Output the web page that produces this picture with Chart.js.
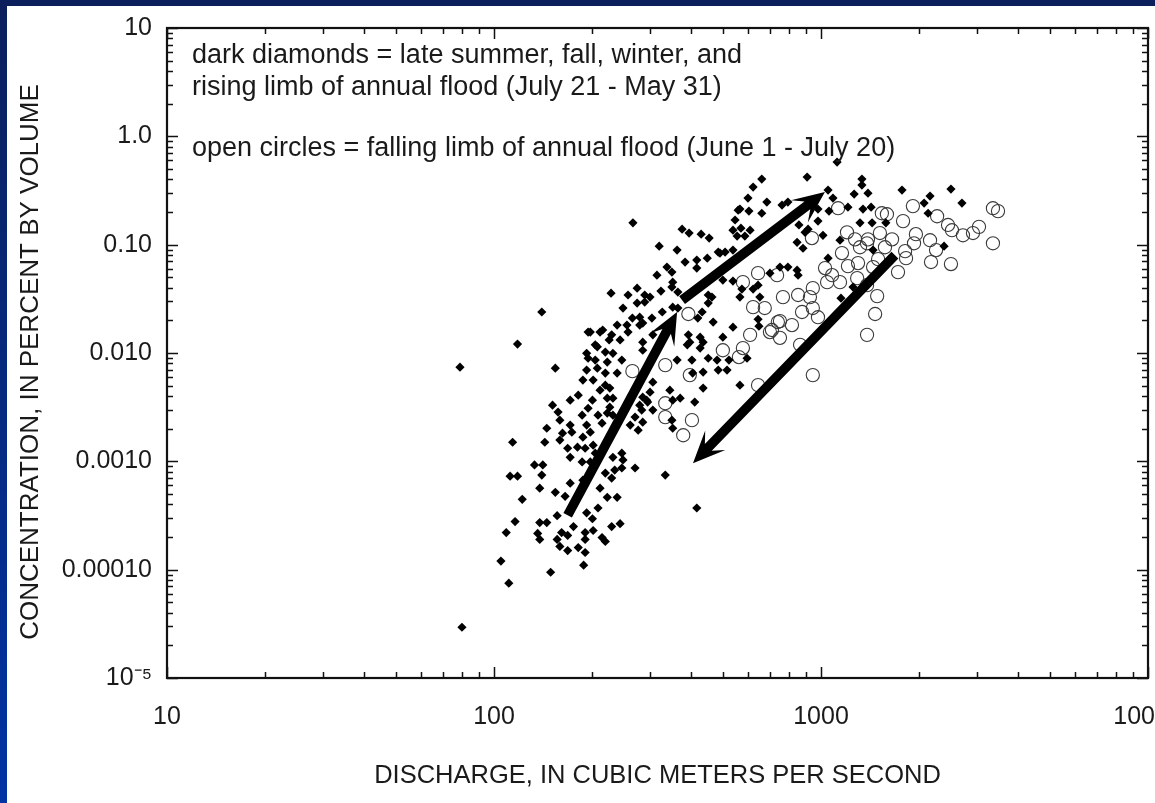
<!DOCTYPE html>
<html>
<head>
<meta charset="utf-8">
<script src="https://cdn.jsdelivr.net/npm/chart.js@4.4.0/dist/chart.umd.min.js"></script>
<style>
  html, body { margin: 0; padding: 0; width: 1155px; height: 803px; overflow: hidden; background: #fff; }
  #topbar { position: absolute; left: 0; top: 0; width: 1155px; height: 6px; background: #0b1f5c; }
  #leftbar { position: absolute; left: 0; top: 0; width: 7px; height: 803px; background: linear-gradient(#0b1f5c, #0034a3); }
  #chart { position: absolute; left: 0; top: 0; }
</style>
</head>
<body>
<div id="topbar"></div>
<div id="leftbar"></div>
<canvas id="chart" width="1155" height="803"></canvas>
<script>
// dark diamonds: discharge (m3/s) and concentration (% by volume)
const diamondQ = [
  266, 320, 376, 395, 430, 455, 363, 315, 338, 352, 384, 417, 417, 449, 491, 538, 546, 538, 558, 350,
  485, 509, 501, 257, 274, 289, 300, 324, 350, 365, 452, 464, 1120, 907, 659, 620, 598, 683, 565, 602,
  659, 760, 792, 569, 607, 585, 1334, 1334, 1392, 1263, 1051, 1088, 979, 1058, 1209, 1344, 1423, 1769, 2067, 2155,
  2497, 2698, 2126, 856, 913, 979, 1014, 845, 881, 1316, 1433, 1579, 1143, 1443, 2379, 1051, 749, 792, 845, 851,
  698, 538, 642, 620, 650, 573, 565, 894, 1253, 1151, 140, 118, 78.7, 154, 228, 194, 248, 274, 352, 327,
  304, 279, 265, 255, 279, 238, 215, 229, 243, 257, 285, 306, 207, 219, 192, 204, 231, 222, 246, 192,
  207, 219, 187, 201, 211, 226, 231, 171, 151, 181, 200, 345, 306, 300, 352, 390, 427, 393, 436, 468,
  501, 538, 363, 403, 405, 436, 485, 516, 481, 433, 411, 642, 646, 452, 436, 565, 594, 452, 420, 427,
  397, 523, 334, 350, 352, 283, 285, 306, 293, 371, 285, 285, 114, 145, 143, 133, 141, 140, 112, 118,
  157, 159, 171, 162, 173, 194, 186, 192, 197, 187, 159, 168, 180, 190, 201, 204, 186, 197, 171, 208,
  214, 222, 226, 222, 219, 204, 194, 238, 225, 211, 197, 285, 279, 295, 270, 276, 261, 231, 246, 248,
  231, 234, 246, 270, 219, 122, 138, 154, 171, 165, 187, 211, 229, 222, 238, 208, 192, 200, 156, 116,
  109, 138, 145, 136, 138, 161, 168, 156, 159, 168, 181, 190, 190, 201, 190, 214, 219, 229, 243, 105,
  111, 149, 188, 175, 417, 79.8, 554, 289, 365
];
const diamondC = [
  0.159, 0.0968, 0.139, 0.128, 0.125, 0.115, 0.0891, 0.0523, 0.0621, 0.0451, 0.0691, 0.0721, 0.0608, 0.0751, 0.0836, 0.0891, 0.169, 0.136, 0.208, 0.0558,
  0.0854, 0.0854, 0.0471, 0.0343, 0.0397, 0.0343, 0.0328, 0.0373, 0.0406, 0.0365, 0.0343, 0.0328, 0.579, 0.421, 0.403, 0.340, 0.269, 0.247, 0.213, 0.204,
  0.195, 0.232, 0.247, 0.142, 0.136, 0.120, 0.403, 0.355, 0.299, 0.293, 0.319, 0.269, 0.213, 0.204, 0.222, 0.213, 0.222, 0.319, 0.242, 0.281,
  0.326, 0.242, 0.195, 0.152, 0.139, 0.165, 0.122, 0.105, 0.0927, 0.159, 0.159, 0.159, 0.110, 0.0891, 0.0968, 0.0751, 0.0621, 0.0621, 0.0582, 0.0523,
  0.0546, 0.0461, 0.0423, 0.0389, 0.0328, 0.0389, 0.0328, 0.130, 0.0406, 0.0321, 0.0239, 0.0121, 0.0074, 0.00725, 0.0357, 0.0156, 0.0260, 0.0289, 0.0265, 0.0239,
  0.0210, 0.0214, 0.0210, 0.0181, 0.0181, 0.0181, 0.0163, 0.0147, 0.0132, 0.0156, 0.0126, 0.0147, 0.0114, 0.0102, 0.00994, 0.0086, 0.00994, 0.00824, 0.0086, 0.00695,
  0.00725, 0.00652, 0.00562, 0.00562, 0.00454, 0.00474, 0.00383, 0.00367, 0.00330, 0.00408, 0.00367, 0.00454, 0.00538, 0.00435, 0.00367, 0.0119, 0.0111, 0.0147, 0.0126, 0.0193,
  0.0140, 0.0173, 0.0086, 0.0086, 0.00652, 0.00474, 0.00695, 0.00695, 0.0086, 0.0239, 0.00352, 0.0205, 0.0177, 0.00894, 0.00666, 0.00505, 0.00894, 0.0289, 0.0210, 0.0140,
  0.0126, 0.0086, 0.000746, 0.00240, 0.00202, 0.00297, 0.00230, 0.00297, 0.00367, 0.00383, 0.0106, 0.0189, 0.00150, 0.00202, 0.00150, 0.000926, 0.000926, 0.000746, 0.000730, 0.000730,
  0.00285, 0.00240, 0.00216, 0.00182, 0.00186, 0.00309, 0.00267, 0.00216, 0.00186, 0.00167, 0.00157, 0.00132, 0.00135, 0.00132, 0.00141, 0.00119, 0.000987, 0.000987, 0.00109, 0.00267,
  0.00225, 0.00383, 0.00316, 0.00279, 0.00505, 0.0119, 0.00894, 0.00652, 0.0132, 0.0156, 0.0156, 0.00391, 0.00330, 0.00352, 0.00256, 0.00194, 0.00216, 0.00267, 0.00119, 0.00103,
  0.00109, 0.00083, 0.000868, 0.000868, 0.000779, 0.000446, 0.000565, 0.000517, 0.000628, 0.000475, 0.00067, 0.000565, 0.000700, 0.000465, 0.000465, 0.000371, 0.000335, 0.000295, 0.000315, 0.000278,
  0.000220, 0.000272, 0.000272, 0.000216, 0.00019, 0.00022, 0.000207, 0.00019, 0.000164, 0.00015, 0.000160, 0.000144, 0.00022, 0.00023, 0.00019, 0.000198, 0.000182, 0.000250, 0.000266, 0.00012,
  0.000075, 0.0000947, 0.000110, 0.000250, 0.000371, 0.0000294, 0.120, 0.0295, 0.0260
];

// open circles: discharge and concentration
const circleQ = [
  1128, 1535, 1591, 1910, 2265, 1782, 2446, 2515, 2717, 2916, 3042, 3356, 3478, 3356, 2155, 2248, 2170, 2497, 1951, 1925,
  1808, 1820, 1720, 1649, 1569, 1495, 1443, 1392, 1514, 1271, 1201, 1316, 1383, 1159, 1209, 1298, 1029, 1081, 1143, 1290,
  1383, 1485, 1464, 1383, 938, 944, 642, 734, 577, 620, 673, 765, 851, 944, 925, 875, 944, 979, 738, 815,
  698, 749, 607, 501, 577, 561, 863, 642, 1044, 393, 334, 397, 265, 334, 334, 403, 379, 708, 749
];
const circleC = [
  0.217, 0.195, 0.191, 0.227, 0.183, 0.165, 0.152, 0.136, 0.122, 0.128, 0.146, 0.217, 0.204, 0.103, 0.110, 0.0891, 0.0691, 0.0662, 0.125, 0.103,
  0.0872, 0.0751, 0.0558, 0.112, 0.0947, 0.0735, 0.0621, 0.112, 0.128, 0.112, 0.130, 0.0947, 0.103, 0.0836, 0.0634, 0.0676, 0.0608, 0.0523, 0.0451, 0.0491,
  0.0423, 0.0335, 0.0229, 0.0147, 0.115, 0.00625, 0.0546, 0.0523, 0.0451, 0.0265, 0.0260, 0.0328, 0.0343, 0.0397, 0.0328, 0.0239, 0.0260, 0.0214, 0.0193, 0.0181,
  0.0156, 0.0138, 0.0147, 0.0106, 0.0111, 0.00917, 0.0119, 0.00505, 0.0451, 0.0229, 0.00773, 0.00625, 0.00680, 0.00344, 0.00256, 0.00240, 0.00174, 0.0163, 0.0197
];

// trend arrows (tail -> head)
const arrowFromQ = [168, 376, 1683];
const arrowFromC = [0.000318, 0.0308, 0.0802];
const arrowToQ = [363, 1028, 406];
const arrowToC = [0.0239, 0.306, 0.00096];

// axes
const xTickValues = [10, 100, 1000, 10000];
const xTickLabels = ['10', '100', '1000', '10000'];
const yTickValues = [0.00001, 0.0001, 0.001, 0.01, 0.1, 1, 10];
const yTickLabels = ['10\u207B\u2075', '0.00010', '0.0010', '0.010', '0.10', '1.0', '10'];
const minorSteps = [2, 3, 4, 5, 6, 7, 8, 9];

const xTitle = 'DISCHARGE, IN CUBIC METERS PER SECOND';
const yTitle = 'CONCENTRATION, IN PERCENT BY VOLUME';
const noteLines = [
  'dark diamonds = late summer, fall, winter, and',
  'rising limb of annual flood (July 21 - May 31)',
  'open circles = falling limb of annual flood (June 1 - July 20)'
];

const textColor = '#1a1a1a';
const fontFamily = '"Liberation Sans", Arial, Helvetica, sans-serif';

function toPoints(qs, cs) {
  return qs.map((q, i) => ({ x: q, y: cs[i] }));
}

function decadeTicks(majors) {
  const ticks = [];
  majors.forEach((m, i) => {
    ticks.push({ value: m, major: true });
    if (i < majors.length - 1) {
      minorSteps.forEach(k => ticks.push({ value: m * k, major: false }));
    }
  });
  return ticks;
}

function tickLabel(value, majors, labels) {
  const i = majors.findIndex(m => Math.abs(m - value) / m < 1e-6);
  return i >= 0 ? labels[i] : '';
}

// box frame with inward ticks on all four sides
const frameTicks = {
  id: 'frameTicks',
  afterDatasetsDraw(chart) {
    const { ctx, chartArea: a, scales: { x, y } } = chart;
    ctx.save();
    ctx.strokeStyle = '#111';
    ctx.lineWidth = 1.5;
    ctx.beginPath();
    x.ticks.forEach(t => {
      const px = Math.round(x.getPixelForValue(t.value)) + 0.5;
      const len = t.major ? 11 : 6;
      ctx.moveTo(px, a.bottom); ctx.lineTo(px, a.bottom - len);
      ctx.moveTo(px, a.top); ctx.lineTo(px, a.top + len);
    });
    y.ticks.forEach(t => {
      const py = Math.round(y.getPixelForValue(t.value)) + 0.5;
      const len = t.major ? 11 : 6;
      ctx.moveTo(a.left, py); ctx.lineTo(a.left + len, py);
      ctx.moveTo(a.right, py); ctx.lineTo(a.right - len, py);
    });
    ctx.stroke();
    ctx.lineWidth = 2.2;
    ctx.strokeRect(a.left, a.top, a.right - a.left, a.bottom - a.top);
    ctx.restore();
  }
};

// thick black arrows
const trendArrows = {
  id: 'trendArrows',
  afterDatasetsDraw(chart) {
    const { ctx, scales: { x, y } } = chart;
    ctx.save();
    ctx.fillStyle = '#000';
    arrowFromQ.forEach((q, i) => {
      const x1 = x.getPixelForValue(q), y1 = y.getPixelForValue(arrowFromC[i]);
      const x2 = x.getPixelForValue(arrowToQ[i]), y2 = y.getPixelForValue(arrowToC[i]);
      const ang = Math.atan2(y2 - y1, x2 - x1);
      const len = Math.hypot(x2 - x1, y2 - y1);
      const headLen = 32, headHalf = 14, notch = 22, half = 4.8;
      ctx.save();
      ctx.translate(x1, y1);
      ctx.rotate(ang);
      ctx.beginPath();
      ctx.moveTo(0, -half);
      ctx.lineTo(len - notch, -half);
      ctx.lineTo(len - headLen, -headHalf);
      ctx.lineTo(len, 0);
      ctx.lineTo(len - headLen, headHalf);
      ctx.lineTo(len - notch, half);
      ctx.lineTo(0, half);
      ctx.closePath();
      ctx.fill();
      ctx.restore();
    });
    ctx.restore();
  }
};

// legend text inside the plot, and the vertical axis title
const noteText = {
  id: 'noteText',
  afterDatasetsDraw(chart) {
    const { ctx, chartArea: a } = chart;
    const offsets = [35, 67, 128];
    ctx.save();
    ctx.fillStyle = textColor;
    ctx.font = '27px ' + fontFamily;
    ctx.textBaseline = 'alphabetic';
    ctx.textAlign = 'left';
    noteLines.forEach((line, i) => ctx.fillText(line, a.left + 25, a.top + offsets[i]));

    ctx.font = '26px ' + fontFamily;
    ctx.textAlign = 'center';
    ctx.textBaseline = 'middle';
    ctx.translate(31, (a.top + a.bottom) / 2 + 9);
    ctx.rotate(-Math.PI / 2);
    ctx.fillText(yTitle, 0, 0);
    ctx.restore();
  }
};

const ctx = document.getElementById('chart').getContext('2d');
new Chart(ctx, {
  type: 'scatter',
  data: {
    datasets: [
      {
        label: 'dark diamonds',
        data: toPoints(diamondQ, diamondC),
        pointStyle: 'rectRot',
        pointRadius: 4.6,
        backgroundColor: '#000',
        borderColor: '#000',
        borderWidth: 0
      },
      {
        label: 'open circles',
        data: toPoints(circleQ, circleC),
        pointStyle: 'circle',
        pointRadius: 6.6,
        backgroundColor: 'rgba(255,255,255,0)',
        borderColor: '#3a3a3a',
        borderWidth: 1.1
      }
    ]
  },
  options: {
    responsive: false,
    animation: false,
    events: [],
    layout: { padding: { left: 0, right: 7, top: 28, bottom: 0 }, autoPadding: false },
    plugins: {
      legend: { display: false },
      tooltip: { enabled: false }
    },
    scales: {
      x: {
        type: 'logarithmic',
        min: 10,
        max: 10000,
        afterBuildTicks: s => { s.ticks = decadeTicks(xTickValues); },
        afterFit: s => {
          s.height = 125;
          s.paddingLeft = 0;
          s.paddingRight = 0;
        },
        grid: { display: false, drawTicks: false },
        border: { display: false },
        ticks: {
          autoSkip: false,
          maxRotation: 0,
          padding: 24,
          color: textColor,
          font: { family: fontFamily, size: 25 },
          callback: v => tickLabel(v, xTickValues, xTickLabels)
        },
        title: {
          display: true,
          text: xTitle,
          color: textColor,
          font: { family: fontFamily, size: 25.5 },
          padding: { top: 0, bottom: 12 }
        }
      },
      y: {
        type: 'logarithmic',
        min: 0.00001,
        max: 10,
        afterBuildTicks: s => { s.ticks = decadeTicks(yTickValues); },
        afterFit: s => {
          s.width = 167;
          s.paddingTop = 0;
          s.paddingBottom = 0;
        },
        grid: { display: false, drawTicks: false },
        border: { display: false },
        ticks: {
          autoSkip: false,
          padding: 15,
          color: textColor,
          font: { family: fontFamily, size: 25 },
          callback: v => tickLabel(v, yTickValues, yTickLabels)
        },
        title: { display: false }
      }
    }
  },
  plugins: [frameTicks, trendArrows, noteText]
});
</script>
</body>
</html>
